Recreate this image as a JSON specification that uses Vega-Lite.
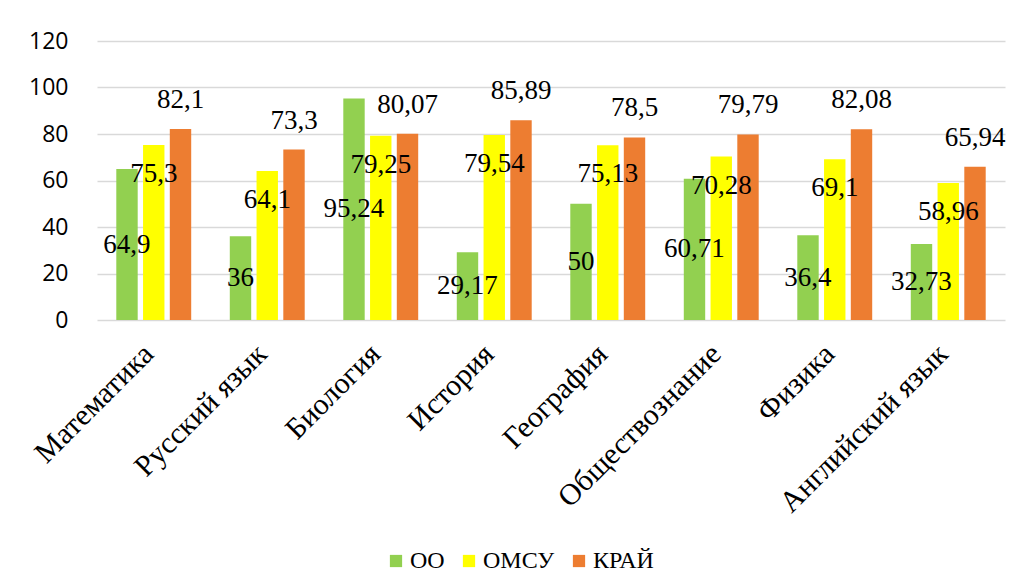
{
  "$schema": "https://vega.github.io/schema/vega-lite/v6.json",
  "autosize": {"type": "none"},
  "width": 908,
  "height": 279,
  "padding": {"left": 97, "top": 41, "right": 7, "bottom": 267},
  "background": "white",
  "config": {
    "view": {"stroke": null},
    "locale": {"number": {"decimal": ",", "thousands": " ", "grouping": [3], "currency": ["", ""]}},
    "font": "Liberation Serif"
  },
  "title": {
    "text": "Хабаровского края",
    "frame": "group",
    "anchor": "start",
    "dx": 248,
    "offset": 35,
    "baseline": "alphabetic",
    "font": "Liberation Serif",
    "fontSize": 21,
    "fontWeight": "normal",
    "color": "black"
  },
  "data": {
    "values": [
      {"subject": "Математика", "series": "ОО", "v": 64.9},
      {"subject": "Математика", "series": "ОМСУ", "v": 75.3},
      {"subject": "Математика", "series": "КРАЙ", "v": 82.1},
      {"subject": "Русский язык", "series": "ОО", "v": 36},
      {"subject": "Русский язык", "series": "ОМСУ", "v": 64.1},
      {"subject": "Русский язык", "series": "КРАЙ", "v": 73.3},
      {"subject": "Биология", "series": "ОО", "v": 95.24},
      {"subject": "Биология", "series": "ОМСУ", "v": 79.25},
      {"subject": "Биология", "series": "КРАЙ", "v": 80.07},
      {"subject": "История", "series": "ОО", "v": 29.17},
      {"subject": "История", "series": "ОМСУ", "v": 79.54},
      {"subject": "История", "series": "КРАЙ", "v": 85.89},
      {"subject": "География", "series": "ОО", "v": 50},
      {"subject": "География", "series": "ОМСУ", "v": 75.13},
      {"subject": "География", "series": "КРАЙ", "v": 78.5},
      {"subject": "Обществознание", "series": "ОО", "v": 60.71},
      {"subject": "Обществознание", "series": "ОМСУ", "v": 70.28},
      {"subject": "Обществознание", "series": "КРАЙ", "v": 79.79},
      {"subject": "Физика", "series": "ОО", "v": 36.4},
      {"subject": "Физика", "series": "ОМСУ", "v": 69.1},
      {"subject": "Физика", "series": "КРАЙ", "v": 82.08},
      {"subject": "Английский язык", "series": "ОО", "v": 32.73},
      {"subject": "Английский язык", "series": "ОМСУ", "v": 58.96},
      {"subject": "Английский язык", "series": "КРАЙ", "v": 65.94}
    ]
  },
  "encoding": {
    "x": {
      "field": "subject",
      "type": "nominal",
      "sort": null,
      "title": null,
      "scale": {"paddingInner": 0.34, "paddingOuter": 0.17},
      "axis": {
        "labelAngle": -45,
        "labelAlign": "right",
        "labelBaseline": "middle",
        "labelPadding": 29,
        "labelOffset": -5,
        "labelFont": "Liberation Serif",
        "labelFontSize": 30,
        "labelColor": "black",
        "labelLimit": 0,
        "labelOverlap": false,
        "labelBound": false,
        "ticks": false,
        "domain": false
      }
    },
    "xOffset": {
      "field": "series",
      "type": "nominal",
      "scale": {"domain": ["ОО", "ОМСУ", "КРАЙ"], "paddingInner": 0.2, "paddingOuter": 0}
    }
  },
  "resolve": {"scale": {"y": "independent"}},
  "layer": [
    {
      "mark": {"type": "bar"},
      "encoding": {
        "y": {
          "field": "v",
          "type": "quantitative",
          "title": null,
          "scale": {"domain": [0, 120], "nice": false},
          "axis": {
            "values": [0, 20, 40, 60, 80, 100, 120],
            "labelFont": "Open Sans",
            "labelFontSize": 23,
            "labelColor": "black",
            "labelPadding": 29,
            "ticks": false,
            "domain": false,
            "grid": true,
            "gridColor": "#d9d9d9",
            "gridWidth": 1.5
          }
        },
        "color": {
          "field": "series",
          "type": "nominal",
          "scale": {"domain": ["ОО", "ОМСУ", "КРАЙ"], "range": ["#92D050", "#FFFF00", "#ED7D31"]},
          "legend": {
            "orient": "none",
            "legendX": 287,
            "legendY": 508,
            "direction": "horizontal",
            "title": null,
            "symbolType": "square",
            "symbolSize": 150,
            "symbolStrokeWidth": 0,
            "labelFont": "Liberation Serif",
            "labelFontSize": 24,
            "labelColor": "black",
            "columnPadding": 12,
            "labelOffset": 2
          }
        }
      }
    },
    {
      "transform": [{"filter": "datum.series === 'ОО'"}],
      "mark": {"type": "text", "baseline": "middle", "fontSize": 27, "color": "black", "font": "Liberation Serif"},
      "encoding": {
        "y": {"field": "v", "type": "quantitative", "scale": {"domain": [0, 240], "nice": false}, "axis": null},
        "text": {"field": "v", "type": "quantitative"}
      }
    },
    {
      "transform": [{"filter": "datum.series === 'ОМСУ'"}],
      "mark": {"type": "text", "baseline": "middle", "dy": 29, "fontSize": 27, "color": "black", "font": "Liberation Serif"},
      "encoding": {
        "y": {"field": "v", "type": "quantitative", "scale": {"domain": [0, 120], "nice": false}, "axis": null},
        "text": {"field": "v", "type": "quantitative"}
      }
    },
    {
      "transform": [{"filter": "datum.series === 'КРАЙ'"}],
      "mark": {"type": "text", "baseline": "middle", "dy": -29, "fontSize": 27, "color": "black", "font": "Liberation Serif"},
      "encoding": {
        "y": {"field": "v", "type": "quantitative", "scale": {"domain": [0, 120], "nice": false}, "axis": null},
        "text": {"field": "v", "type": "quantitative"}
      }
    }
  ]
}
